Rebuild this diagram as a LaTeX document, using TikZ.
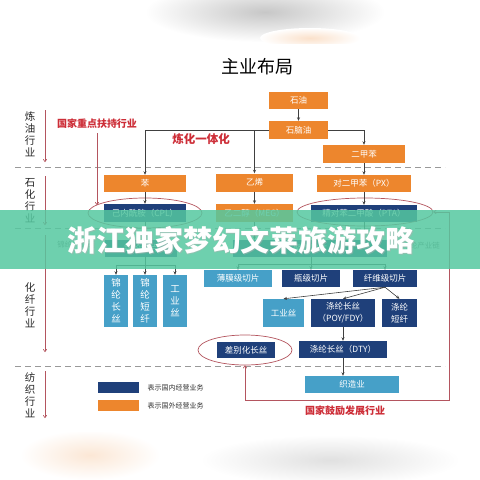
\documentclass[tikz,border=0pt]{standalone}
\usepackage{fontspec}
\setmainfont{Noto Sans CJK SC}
\usetikzlibrary{arrows.meta,shapes.geometric,calc}
\pgfdeclarelayer{bg}
\pgfdeclarelayer{fg}
\pgfsetlayers{bg,main,fg}
\definecolor{orgc}{RGB}{237,134,45}
\definecolor{navyc}{RGB}{31,64,122}
\definecolor{bluec}{RGB}{70,160,200}
\definecolor{redt}{RGB}{205,45,55}
\definecolor{redl}{RGB}{180,85,95}
\definecolor{bannerc}{RGB}{85,200,160}
\tikzset{
  box/.style={inner sep=0pt, text=white, font=\fontsize{8.5}{10}\selectfont, align=center},
  ob/.style={box, fill=orgc},
  nb/.style={box, fill=navyc},
  lb/.style={box, fill=bluec},
  conn/.style={draw=black!75, line width=0.6pt, -{Stealth[length=3.5pt,width=3pt]}},
  plain/.style={draw=black!75, line width=0.6pt},
  pinkd/.style={draw=redl!70, line width=0.6pt, dash pattern=on 3pt off 2pt, -{Stealth[length=3.5pt,width=3pt]}},
  ell/.style={ellipse, draw=redl, line width=0.7pt, inner sep=0pt},
  redarrow/.style={draw=redl, line width=0.7pt},
  sidearrow/.style={draw=redl, line width=0.6pt, -{To[length=3pt,width=4pt]}},
  sidelabel/.style={font=\fontsize{10.5}{12}\selectfont, align=center, text=black!85},
  divider/.style={draw=black!40, line width=0.6pt, dash pattern=on 6pt off 4pt},
  redlabel/.style={text=redt, font=\bfseries\fontsize{10}{12}\selectfont},
  legtext/.style={font=\fontsize{7}{8}\selectfont, text=black!80, anchor=west},
  grayl/.style={font=\fontsize{7.5}{9}\selectfont, text=black!55},
}
\begin{document}
\begin{tikzpicture}[x=1pt,y=-1pt]
\useasboundingbox (0,0) rectangle (480,480);
\fill[white] (0,0) rectangle (480,480);
% blurred photo edges
\shade[inner color=black!22, outer color=white] (265,12) ellipse (120 and 30);
\shade[inner color=orgc!25, outer color=white] (310,38) ellipse (50 and 10);
\shade[inner color=orgc!20, outer color=white] (90,455) ellipse (70 and 25);
\shade[inner color=black!12, outer color=white] (330,460) ellipse (130 and 25);
\fill[white] (0,44) rectangle (480,432);

% title
\node[font=\fontsize{18}{20}\selectfont] (title) at (257,67) {主业布局};

% dividers
\draw[divider] (15,167) -- (445,167);
\draw[divider] (15,228) -- (445,228);
\draw[divider] (15,366) -- (445,366);

% side labels
\node[sidelabel] (l1) at (30,134) {炼\\油\\行\\业};
\node[sidelabel] (l2) at (30,201) {石\\化\\行\\业};
\node[sidelabel] (l3) at (30,305) {化\\纤\\行\\业};
\node[sidelabel] (l4) at (30,395) {纺\\织\\行\\业};
\coordinate (a1s) at (45,110); \coordinate (a1e) at (45,162);
\coordinate (a2s) at (45,176); \coordinate (a2e) at (45,225);
\coordinate (a3s) at (45,235); \coordinate (a3e) at (45,352);
\coordinate (a4s) at (45,371); \coordinate (a4e) at (45,418);
\draw[sidearrow] (a1s) -- (a1e);
\draw[sidearrow] (a2s) -- (a2e);
\draw[sidearrow] (a3s) -- (a3e);
\draw[sidearrow] (a4s) -- (a4e);

% boxes
\node[ob, minimum width=59pt, minimum height=17pt] (oil) at (298.5,100.5) {石油};
\node[ob, minimum width=59pt, minimum height=18pt] (naph) at (298.5,130) {石脑油};
\node[ob, minimum width=82pt, minimum height=18pt] (xyl) at (364,154) {二甲苯};
\node[ob, minimum width=82pt, minimum height=17pt] (ben) at (145,183.5) {苯};
\node[ob, minimum width=77pt, minimum height=18pt] (eth) at (254.5,182.5) {乙烯};
\node[ob, minimum width=94pt, minimum height=17pt] (px) at (364,183.5) {对二甲苯（PX）};
\node[nb, minimum width=82pt, minimum height=18pt] (cpl) at (145,213) {己内酰胺（CPL）};
\node[ob, minimum width=77pt, minimum height=18pt] (meg) at (254.5,213) {乙二醇（MEG）};
\node[nb, minimum width=106pt, minimum height=17pt] (pta) at (364,213.5) {精对苯二甲酸（PTA）};
\node[nb, minimum width=72pt, minimum height=17pt] (nyc) at (141,248.5) {锦纶切片};
\node[nb, minimum width=154pt, minimum height=17pt] (pet) at (310,248.5) {聚酯熔体};
\node[lb, minimum width=24pt, minimum height=52pt, font=\fontsize{9.5}{12}\selectfont] (nyf1) at (116,301) {锦\\纶\\长\\丝};
\node[lb, minimum width=24pt, minimum height=52pt, font=\fontsize{9.5}{12}\selectfont] (nyf2) at (145,301) {锦\\纶\\短\\纤};
\node[lb, minimum width=24pt, minimum height=52pt, font=\fontsize{9.5}{12}\selectfont] (nyf3) at (175,301) {工\\业\\丝};
\node[lb, minimum width=68pt, minimum height=17pt] (film) at (238,278.5) {薄膜级切片};
\node[nb, minimum width=58pt, minimum height=17pt] (bottle) at (311,278.5) {瓶级切片};
\node[nb, minimum width=64pt, minimum height=17pt] (fiber) at (385,278.5) {纤维级切片};
\node[lb, minimum width=41pt, minimum height=28pt] (indy) at (283.5,313) {工业丝};
\node[nb, minimum width=64pt, minimum height=28pt, font=\fontsize{8.5}{12}\selectfont] (poy) at (343,313) {涤纶长丝\\（POY/FDY）};
\node[nb, minimum width=35pt, minimum height=28pt, font=\fontsize{8.5}{12}\selectfont] (psf) at (399.5,313) {涤纶\\短纤};
\node[nb, minimum width=88pt, minimum height=17pt] (dty) at (343,349.5) {涤纶长丝（DTY）};
\node[nb, minimum width=58pt, minimum height=16pt] (diff) at (246,350) {差别化长丝};
\node[lb, minimum width=94pt, minimum height=17pt] (weave) at (352,384.5) {织造业};

% ellipses
\node[ell, minimum width=114pt, minimum height=30pt] (cplE) at (145,213) {};
\node[ell, minimum width=136pt, minimum height=28pt] (ptaE) at (365,212) {};
\node[ell, minimum width=94pt, minimum height=30pt] (diffE) at (245,350) {};

% connectors
\draw[conn] (oil) -- (naph);
\draw[conn] (naph.west) -| (ben.north);
\draw[conn] (naph.west -| eth.north) -- (eth.north);
\draw[conn] (naph.east) -| (xyl.north);
\draw[conn] (xyl) -- (px);
\draw[conn] (ben) -- (cpl);
\draw[conn] (eth) -- (meg);
\draw[conn] (px) -- (pta);
\draw[conn] (cpl.south) -- (cpl.south |- nyc.north);
\draw[conn] (meg.south) -- (meg.south |- pet.north);
\draw[conn] (pta.south) -- (pta.south |- pet.north);
\coordinate (b1) at (145,265);
\draw[plain] (nyc.south -| b1) -- (b1);
\draw[conn] (b1) -| (nyf1.north);
\draw[conn] (b1) -| (nyf3.north);
\draw[conn] (b1) -- (nyf2.north);
\coordinate (b2) at (311,264);
\draw[plain] (pet.south -| b2) -- (b2);
\draw[conn] (b2) -| (film.north);
\draw[conn] (b2) -| (fiber.north);
\draw[conn] (b2) -- (bottle.north);
\draw[conn] (fiber.south) -- (indy.north);
\draw[conn] (fiber.south) -- (poy.north);
\draw[conn] (fiber.south) -- (psf.north);
\draw[conn] (poy) -- (dty);
\draw[conn] (dty.south) -- (dty.south |- weave.north);
\begin{pgfonlayer}{bg}
\draw[pinkd] ([xshift=8pt]bottle.south) -- ([xshift=8pt]bottle.south |- weave.north);
\draw[pinkd] ([xshift=-9.5pt]psf.south) -- ([xshift=-9.5pt]psf.south |- weave.north);
\end{pgfonlayer}

% red labels and lines
\node[redlabel] (key) at (97,124) {国家重点扶持行业};
\node[redlabel, font=\bfseries\fontsize{11.5}{13}\selectfont] (integ) at (201,139) {炼化一体化};
\node[redlabel] (enc) at (345,411) {国家鼓励发展行业};
\coordinate (k1) at (97,133);
\draw[redarrow, -{To[length=3pt,width=4pt]}] (k1) -- (97,205);
\coordinate (r1) at (449,400);
\draw[redarrow, {To[length=3pt,width=4pt]}-{To[length=3pt,width=4pt]}] (diffE.south) |- (r1) |- (ptaE.east);

% gray chain labels
\node[grayl] (nylon) at (76,245) {锦纶产业链};
\node[grayl] (poly) at (421,246) {涤纶产业链};

% legend
\fill[navyc] (98,382) rectangle (139,393);
\fill[orgc] (98,400) rectangle (139,411);
\node[legtext] (lg1) at (144,387.5) {表示国内经营业务};
\node[legtext] (lg2) at (144,405.5) {表示国外经营业务};

% banner overlay
\begin{pgfonlayer}{fg}
\fill[bannerc, opacity=0.85] (0,210) rectangle (480,269);
\node[text=black!30, opacity=0.5, font=\bfseries\fontsize{29}{32}\selectfont] at (242,241.5) {浙江独家梦幻文莱旅游攻略};
\node[text=white, font=\bfseries\fontsize{29}{32}\selectfont] (banner) at (241,240) {浙江独家梦幻文莱旅游攻略};
\end{pgfonlayer}
\end{tikzpicture}
\end{document}
